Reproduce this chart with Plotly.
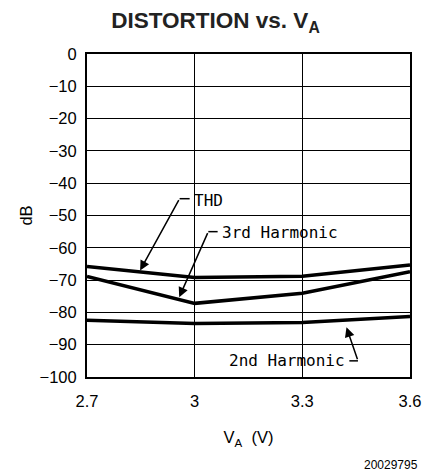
import plotly.graph_objects as go

va = [2.7, 3.0, 3.3, 3.6]
thd = [-65.8, -69.2, -68.8, -65.3]
third_harm = [-68.9, -77.2, -74.1, -67.4]
second_harm = [-82.4, -83.4, -83.1, -81.3]

x_ticks = [2.7, 3.0, 3.3, 3.6]
x_ticktext = ['2.7', '3', '3.3', '3.6']
y_ticks = list(range(0, -101, -10))

lbl_font = dict(family='DejaVu Sans Mono', size=16, color='black')
tick_font = dict(family='Liberation Sans', size=16.5, color='black')

fig = go.Figure()
for ys in [thd, third_harm, second_harm]:
    fig.add_trace(go.Scatter(x=va, y=ys, mode='lines',
                             line=dict(color='black', width=3.5),
                             showlegend=False, hoverinfo='skip'))

# labels: (text, text x, text y, corner x, corner y, tip x, tip y, side)
labels = [
    ('THD', 2.992, -45.4, 2.958, -44.8, 2.848, -67.0, 'left'),
    ('3rd Harmonic', 3.070, -55.4, 3.038, -55.0, 2.957, -75.3, 'left'),
    ('2nd Harmonic', 3.425, -95.0, 3.455, -95.0, 3.423, -84.6, 'right'),
]
for text, tx, ty, cx, cy, px, py, side in labels:
    fig.add_annotation(x=tx, y=ty, text=text, showarrow=False,
                       xanchor='left' if side == 'left' else 'right',
                       yanchor='middle', font=lbl_font)
    hx = tx - 0.006 if side == 'left' else tx + 0.006
    fig.add_shape(type='line', x0=cx, y0=cy, x1=hx, y1=cy,
                  line=dict(color='black', width=1.5))
    fig.add_annotation(x=px, y=py, ax=cx, ay=cy, axref='x', ayref='y',
                       text='', showarrow=True, arrowhead=2, arrowsize=1.3,
                       arrowwidth=1.5, arrowcolor='black')

fig.add_annotation(x=1.031, y=-0.272, xref='paper', yref='paper',
                   xanchor='right', yanchor='middle', showarrow=False,
                   text='20029795', font=dict(family='Liberation Sans', size=12, color='black'))

fig.update_layout(
    width=431, height=475,
    margin=dict(l=87, r=21, t=54, b=98),
    paper_bgcolor='white', plot_bgcolor='white',
    title=dict(text='<b>DISTORTION vs. V<sub>A</sub></b>', x=0.5, xanchor='center',
               y=0.958, yanchor='middle',
               font=dict(family='Liberation Sans', size=22.5, color='#222')),
    xaxis=dict(range=[2.7, 3.6], tickvals=x_ticks, ticktext=x_ticktext,
               showgrid=True, gridcolor='black', gridwidth=1.3,
               showline=True, linecolor='black', linewidth=2, mirror=True,
               ticks='', zeroline=False, automargin=False, ticklabelstandoff=8,
               tickfont=tick_font,
               title=dict(text='V<sub>A</sub>  (V)', standoff=23, font=tick_font)),
    yaxis=dict(range=[-100, 0], tickvals=y_ticks,
               showgrid=True, gridcolor='black', gridwidth=1.3,
               showline=True, linecolor='black', linewidth=2, mirror=True,
               ticks='', zeroline=False, automargin=False, ticklabelstandoff=5,
               tickfont=tick_font,
               title=dict(text='dB', standoff=3, font=tick_font)),
)

fig.write_html('out.html', config={'displayModeBar': False},
               post_script="document.body.style.margin='0';")
